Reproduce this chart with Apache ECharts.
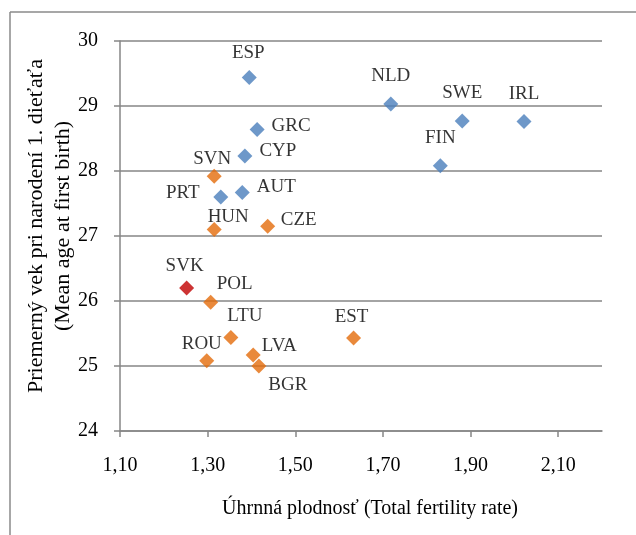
<!DOCTYPE html>
<html>
<head>
<meta charset="utf-8">
<script src="https://cdn.jsdelivr.net/npm/echarts@6/dist/echarts.min.js"></script>
<style>
html,body{margin:0;padding:0;background:#fff;}
#chart{width:636px;height:535px;}
</style>
</head>
<body>
<div id="chart"></div>
<script>
// Data
const blueCountries = ['ESP','GRC','CYP','PRT','AUT','NLD','SWE','IRL','FIN'];
const blueTfr = [1.395, 1.413, 1.385, 1.330, 1.379, 1.718, 1.881, 2.022, 1.831];
const blueAge = [29.44, 28.64, 28.23, 27.60, 27.67, 29.03, 28.77, 28.76, 28.08];

const orangeCountries = ['SVN','HUN','CZE','POL','LTU','EST','ROU','LVA','BGR'];
const orangeTfr = [1.315, 1.315, 1.437, 1.307, 1.353, 1.633, 1.298, 1.404, 1.417];
const orangeAge = [27.92, 27.10, 27.15, 25.98, 25.44, 25.43, 25.08, 25.17, 25.00];

const redCountries = ['SVK'];
const redTfr = [1.252];
const redAge = [26.20];

const xTicks = [1.10, 1.30, 1.50, 1.70, 1.90, 2.10];
const yTicks = [24, 25, 26, 27, 28, 29, 30];

const xTitle = 'Úhrnná plodnosť (Total fertility rate)';
const yTitle = 'Priemerný vek pri narodení 1. dieťaťa\n(Mean age at first birth)';

// Label placement (layout only)
const labelOffsets = {
  ESP:[-1,-24], GRC:[34,-3], CYP:[33,-5], SVN:[-2,-17], PRT:[-38,-4], AUT:[34,-5],
  HUN:[14,-12], CZE:[31,-6], NLD:[0,-28], SWE:[0,-28], IRL:[0,-28], FIN:[0,-28],
  SVK:[-2,-22], POL:[24,-18], LTU:[14,-21], EST:[-2,-21], ROU:[-5,-17], LVA:[26,-9], BGR:[29,19]
};

const FONT = '"Liberation Serif", "Times New Roman", serif';

function buildData(names, xs, ys) {
  return names.map((n, i) => ({
    name: n,
    value: [xs[i], ys[i]],
    label: { offset: labelOffsets[n] || [0, -20] }
  }));
}

function makeSeries(name, color, names, xs, ys) {
  return {
    name: name,
    type: 'scatter',
    symbol: 'diamond',
    symbolSize: 15,
    itemStyle: { color: color },
    label: {
      show: true,
      position: 'inside',
      align: 'center',
      verticalAlign: 'middle',
      formatter: p => p.name,
      color: '#000',
      fontFamily: FONT,
      fontSize: 19
    },
    emphasis: { disabled: true },
    data: buildData(names, xs, ys)
  };
}

const chart = echarts.init(document.getElementById('chart'), null, { renderer: 'canvas' });
const fmtX = v => v.toFixed(2).replace('.', ',');

chart.setOption({
  animation: false,
  backgroundColor: '#fff',
  grid: { left: 120, right: 34, top: 41, bottom: 104, containLabel: false },
  xAxis: {
    type: 'value',
    min: 1.1,
    max: 2.2,
    name: xTitle,
    nameLocation: 'middle',
    nameGap: 68,
    nameMoveOverlap: false,
    nameTextStyle: { fontFamily: FONT, fontSize: 20, color: '#000', padding: [0, 0, 0, 18] },
    axisLine: { show: true, lineStyle: { color: '#868686', width: 1.5 } },
    axisTick: { show: true, inside: false, length: 6, customValues: xTicks, lineStyle: { color: '#868686', width: 1.5 } },
    axisLabel: { customValues: xTicks, formatter: fmtX, margin: 25, fontFamily: FONT, fontSize: 20, color: '#000' },
    splitLine: { show: false }
  },
  yAxis: {
    type: 'value',
    min: 24,
    max: 30,
    interval: 1,
    name: yTitle,
    nameLocation: 'middle',
    nameRotate: 90,
    nameGap: 43,
    nameMoveOverlap: false,
    nameTextStyle: { fontFamily: FONT, fontSize: 22, color: '#000', lineHeight: 27, padding: [0, 0, 0, 20] },
    axisLine: { show: true, lineStyle: { color: '#868686', width: 1.5 } },
    axisTick: { show: true, length: 6, lineStyle: { color: '#868686', width: 1.5 } },
    axisLabel: { margin: 22, fontFamily: FONT, fontSize: 20, color: '#000' },
    splitLine: { show: true, lineStyle: { color: '#868686', width: 1.5 } }
  },
  graphic: [
    { type: 'line', shape: { x1: 10, y1: 12, x2: 10, y2: 535 }, style: { stroke: '#8a8a8a', lineWidth: 1.5 } },
    { type: 'line', shape: { x1: 10, y1: 12, x2: 636, y2: 12 }, style: { stroke: '#8a8a8a', lineWidth: 1.5 } }
  ],
  series: [
    makeSeries('blue', '#4a7ebb', blueCountries, blueTfr, blueAge),
    makeSeries('orange', '#e46c0a', orangeCountries, orangeTfr, orangeAge),
    makeSeries('red', '#c00000', redCountries, redTfr, redAge)
  ]
});
</script>
</body>
</html>
